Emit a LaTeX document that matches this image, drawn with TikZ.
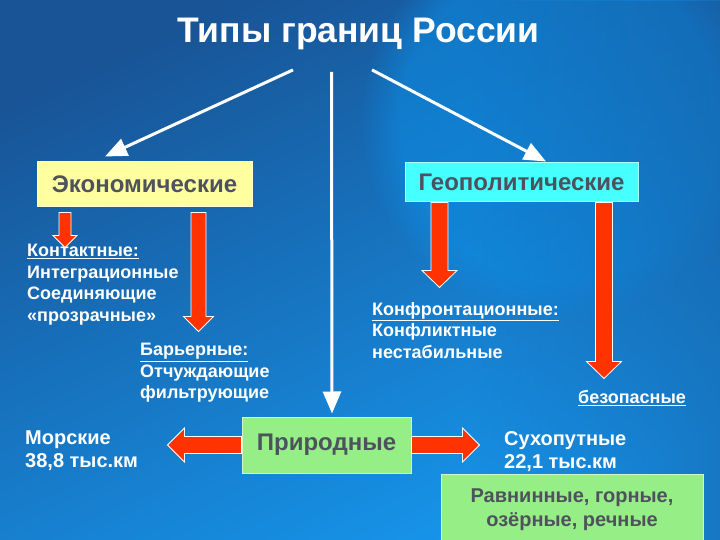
\documentclass[tikz,border=0pt]{standalone}
\usepackage{fontspec}
\setmainfont{Liberation Sans}
\usetikzlibrary{arrows.meta,positioning,calc,fadings}
\definecolor{bgdark}{RGB}{24,84,150}
\definecolor{bglight}{RGB}{22,150,236}
\definecolor{bgspot}{RGB}{10,150,240}
\definecolor{ekoyellow}{RGB}{255,255,160}
\definecolor{geocyan}{RGB}{70,255,255}
\definecolor{natgreen}{RGB}{150,238,135}
\definecolor{boxtext}{RGB}{78,82,92}
\definecolor{arrowred}{RGB}{255,51,0}
\tikzfading[name=darkright, left color=transparent!100, right color=transparent!0]
\tikzset{
  shaftw/.store in=\shaftw, headw/.store in=\headw, headl/.store in=\headl,
  shaftw=7.5pt, headw=15pt, headl=15pt,
  box/.style={draw=white!55!#1, fill=#1, line width=1pt, text=boxtext, align=center, inner sep=0pt, font=\bfseries\fontsize{24}{28}\selectfont},
  note/.style={text=white, align=left, inner sep=0pt, anchor=north west, font=\bfseries\fontsize{18}{21.5}\selectfont},
  whitearrow/.style={draw=white, line width=3pt, -{Triangle[width=18pt,length=22pt]}},
  redarrow/.style={draw=white, fill=arrowred, line width=0.8pt, to path={
    let \p1=(\tikztostart), \p2=(\tikztotarget),
        \n1={atan2(\y2-\y1,\x2-\x1)}, \n2={veclen(\x2-\x1,\y2-\y1)-\headl},
        \n3={\n1+90}, \n4={\n1-90} in
    ($(\p1)+(\n3:\shaftw)$) -- ($(\p1)+(\n1:\n2)+(\n3:\shaftw)$)
    -- ($(\p1)+(\n1:\n2)+(\n3:\headw)$) -- (\p2)
    -- ($(\p1)+(\n1:\n2)+(\n4:\headw)$) -- ($(\p1)+(\n1:\n2)+(\n4:\shaftw)$)
    -- ($(\p1)+(\n4:\shaftw)$) -- cycle}}
}

\begin{document}
\begin{tikzpicture}[x=1pt,y=-1pt]
  \useasboundingbox (0,0) rectangle (720,540);
  % background
  \begin{scope}
    \clip (0,0) rectangle (720,540);
    \shade[top color=bgdark, bottom color=bglight, shading angle=25] (0,0) rectangle (720,540);
    \fill[bgspot, opacity=0.45, path fading=circle with fuzzy edge 20 percent] (560,120) circle (200);
    \fill[bgdark, opacity=0.45, path fading=darkright] (470,0) rectangle (720,540);
  \end{scope}

  \node[text=white, font=\bfseries\fontsize{35.5}{40}\selectfont, anchor=base] (title) at (358.5,43) {Типы границ России};

  \node[box=ekoyellow, minimum width=215pt, minimum height=45pt] (econ) at (144.5,184.5) {Экономические};
  \node[box=geocyan, minimum width=233pt, minimum height=39pt] (geo) at (521.5,182.5) {Геополитические};
  \node[box=natgreen, minimum width=169pt, minimum height=56pt] (nat) at (326.5,445) {Природные};
  \node[box=natgreen, minimum width=262pt, minimum height=70pt, anchor=north, font=\bfseries\fontsize{20}{24}\selectfont] (relief) at (572,474) {Равнинные, горные,\\озёрные, речные};

  \node[note] (kontakt) at (27,244) {\underline{Контактные:}\\Интеграционные\\Соединяющие\\«прозрачные»};
  \node[note] (barier) at (140,343) {\underline{Барьерные:}\\Отчуждающие\\фильтрующие};
  \node[note] (konfr) at (372,302) {\underline{Конфронтационные:}\\Конфликтные\\нестабильные};
  \node[note] (bezop) at (578,390) {\underline{безопасные}};
  \node[note, font=\bfseries\fontsize{20}{23}\selectfont] (sea) at (25,431) {Морские\\38,8 тыс.км};
  \node[note, font=\bfseries\fontsize{20}{23}\selectfont] (land) at (504,431) {Сухопутные\\22,1 тыс.км};

  \draw[whitearrow] ([xshift=-65.5pt,yshift=-16pt]title.south) -- ([xshift=-39.5pt,yshift=5pt]econ.north);
  \draw[whitearrow] ([xshift=-27pt,yshift=-18pt]title.south) -- ([xshift=5.5pt,yshift=3pt]nat.north);
  \draw[whitearrow] ([xshift=13.5pt,yshift=-16pt]title.south) -- ([xshift=24.5pt,yshift=1pt]geo.north);

  \draw[redarrow, shaftw=6pt, headw=12pt, headl=12pt] ([xshift=-79.5pt,yshift=-5pt]econ.south) to ++(0,35);
  \draw[redarrow] ([xshift=54pt,yshift=-5pt]econ.south) to ++(0,119);
  \draw[redarrow, shaftw=8.5pt, headw=17.5pt, headl=17pt] ([xshift=-82pt]geo.south) to ++(0,85);
  \draw[redarrow, shaftw=8.5pt, headw=17.5pt, headl=17pt] ([xshift=82.5pt]geo.south) to ++(0,176);
  \draw[redarrow, shaftw=8.5pt, headw=17pt, headl=17pt] (nat.west) to ++(-74,0);
  \draw[redarrow, shaftw=8.5pt, headw=17pt, headl=17pt] (nat.east) to ++(68,0);
\end{tikzpicture}
\end{document}
